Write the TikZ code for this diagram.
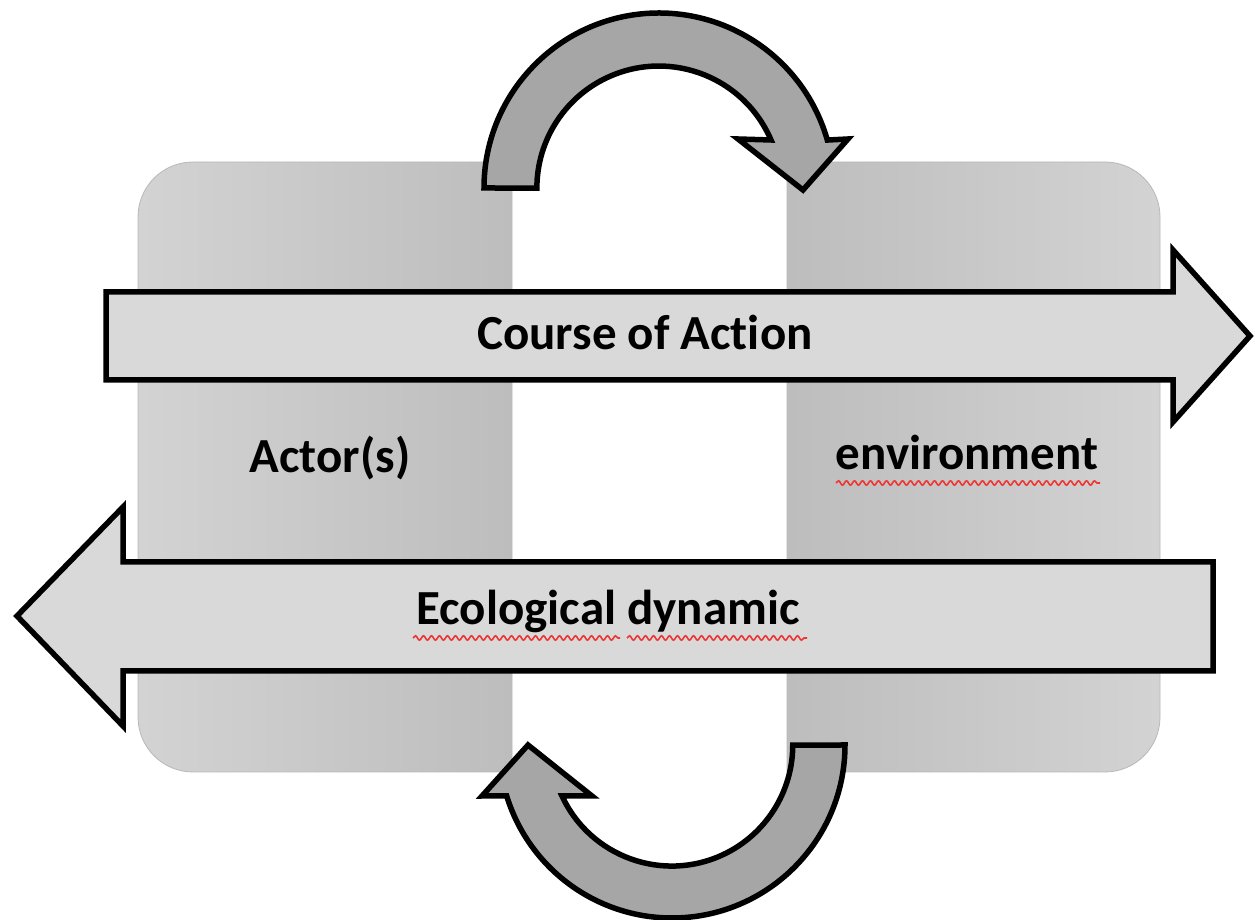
\documentclass[tikz,border=0pt]{standalone}
\usepackage{fontspec}
\setmainfont{Carlito}[RawFeature={-liga;-clig;-calt;-dlig}]
\usetikzlibrary{decorations.pathmorphing}
\definecolor{panelLight}{HTML}{D3D3D3}
\definecolor{panelDark}{HTML}{BDBDBD}
\definecolor{bandFill}{HTML}{D9D9D9}
\definecolor{cycleFill}{HTML}{A6A6A6}
\definecolor{spellRed}{HTML}{F03535}
\tikzset{
  panel/.style={draw=black!28, line width=0.8pt},
  band/.style={draw=black, fill=bandFill, line width=5.5pt, line join=miter},
  cyclearrow/.style={draw=black, fill=cycleFill, line width=5.5pt, line join=miter},
  txt/.style={font=\fontsize{49}{58}\selectfont\bfseries, inner sep=0pt, anchor=base},
  squiggle/.style={draw=spellRed, line width=1.6pt, decorate,
    decoration={snake, segment length=8pt, amplitude=2.2pt}}
}
\begin{document}
\begin{tikzpicture}[x=1pt,y=1pt]
  \useasboundingbox (0,0) rectangle (1255,920);

  % two shaded panels, rounded on their outer corners
  \path[panel, left color=panelLight, right color=panelDark]
    (512,758) -- (193,758) arc[start angle=90, end angle=180, radius=55pt]
    -- (138,203) arc[start angle=180, end angle=270, radius=55pt]
    -- (512,148) -- cycle;
  \path[panel, left color=panelDark, right color=panelLight]
    (787,758) -- (1105,758) arc[start angle=90, end angle=0, radius=55pt]
    -- (1160,203) arc[start angle=0, end angle=-90, radius=55pt]
    -- (787,148) -- cycle;

  % straight block arrows
  \path[band] (106,628) -- (1173,628) -- (1173,670) -- (1250,584)
    -- (1173,498) -- (1173,540) -- (106,540) -- cycle;
  \path[band] (1213,358) -- (123,358) -- (123,413) -- (17,304)
    -- (123,194) -- (123,249) -- (1213,249) -- cycle;

  % curved arrows closing the loop
  \path[cyclearrow] (484,732) arc[start angle=180, end angle=15.9, radius=175pt]
    -- (848,781) -- (803,730) -- (738,781) -- (771,780)
    arc[start angle=23.2, end angle=180, radius=122pt] -- cycle;
  \path[cyclearrow] (845,175) arc[start angle=0, end angle=-162.9, radius=173pt]
    -- (482,124) -- (528,175) -- (592,124) -- (562,124)
    arc[start angle=-155.1, end angle=0, radius=121pt] -- cycle;

  % labels
  \node[txt] (course) at (645,570) {Course of Action};
  \node[txt] (actor) at (330,447) {Actor(s)};
  \node[txt] (env) at (967,450) {environment};
  \node[txt] (eco) at (608,295) {Ecological dynamic};

  % spell-check underlines
  \draw[squiggle] (836,437) -- (1100,437);
  \draw[squiggle] (413,282) -- (620,282);
  \draw[squiggle] (627,282) -- (807,282);
\end{tikzpicture}
\end{document}
